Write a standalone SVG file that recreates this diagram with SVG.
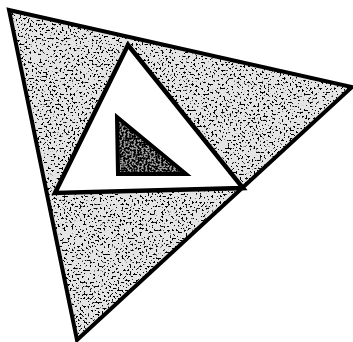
<svg xmlns="http://www.w3.org/2000/svg" width="353" height="342" viewBox="0 0 353 342">
  <defs>
    <filter id="stipple" x="0" y="0" width="100%" height="100%" filterUnits="userSpaceOnUse">
      <feTurbulence type="fractalNoise" baseFrequency="0.5" numOctaves="3" seed="7" result="n"/>
      <feColorMatrix in="n" type="matrix" values="0 0 0 0 0  0 0 0 0 0  0 0 0 0 0  -16 0 0 0 6.6"/>
    </filter>
    <filter id="stippleDark" x="0" y="0" width="100%" height="100%" filterUnits="userSpaceOnUse">
      <feTurbulence type="fractalNoise" baseFrequency="0.5" numOctaves="2" seed="3" result="n"/>
      <feColorMatrix in="n" type="matrix" values="0 0 0 0 0  0 0 0 0 0  0 0 0 0 0  -12 0 0 0 6.6"/>
    </filter>
    <clipPath id="ringClip">
      <path clip-rule="evenodd" d="M9,10 L352,87 L77,340 Z M128,45 L55,193 L243,188 Z"/>
    </clipPath>
    <clipPath id="smallClip">
      <path d="M117,117 L118,174 L186,174 Z"/>
    </clipPath>
  </defs>
  <style>
    .edge { fill: none; stroke: #000; stroke-linejoin: miter; }
  </style>
  <rect width="353" height="342" fill="#fff"/>
  <g id="outer-triangle">
    <path d="M9,10 L352,87 L77,340 Z M128,45 L55,193 L243,188 Z" fill="#e4e4e4" fill-rule="evenodd"/>
    <g clip-path="url(#ringClip)">
      <rect x="0" y="0" width="353" height="342" filter="url(#stipple)" fill="#000"/>
    </g>
    <polygon class="edge" points="9,10 352,87 77,340" stroke-width="4"/>
  </g>
  <g id="middle-triangle">
    <polygon class="edge" points="128,45 55,193 243,188" stroke-width="4.5"/>
  </g>
  <g id="inner-triangle">
    <polygon points="117,117 118,174 186,174" fill="#9a9a9a"/>
    <g clip-path="url(#smallClip)">
      <rect x="100" y="100" width="100" height="90" filter="url(#stippleDark)"/>
    </g>
    <polygon class="edge" points="117,117 118,174 186,174" stroke-width="4"/>
  </g>
</svg>
